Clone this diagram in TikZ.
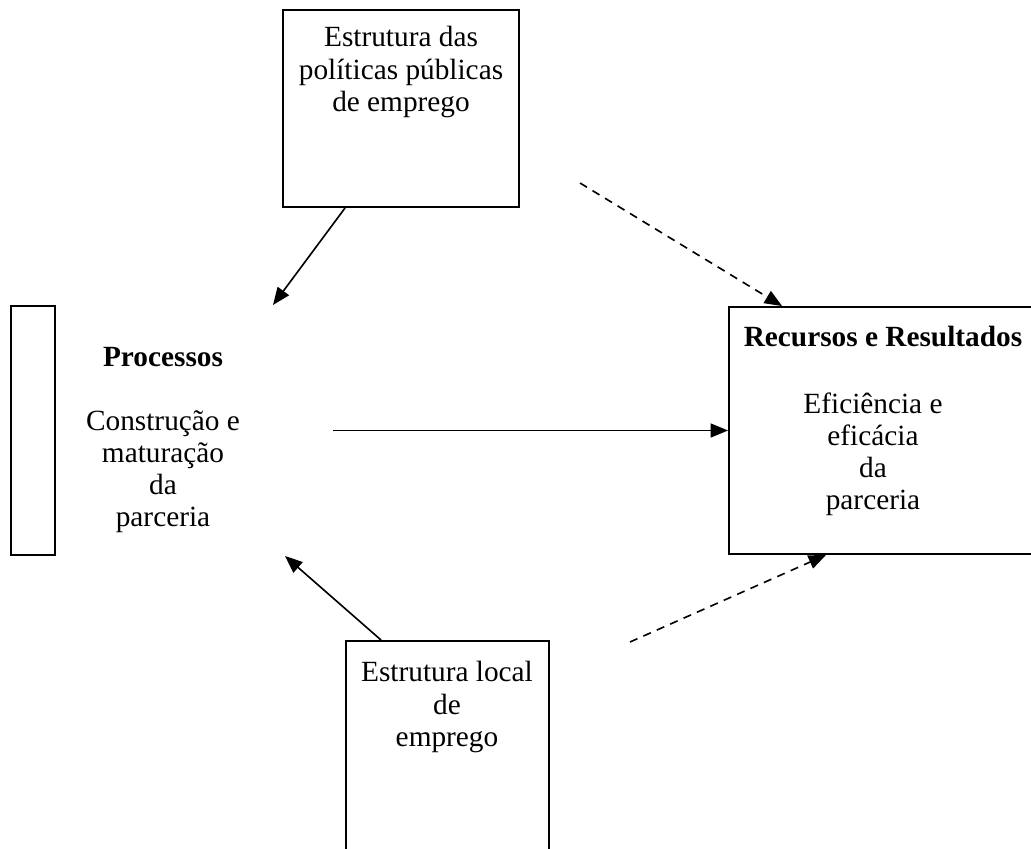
\documentclass[tikz,border=0pt]{standalone}
\usepackage{fontspec}
\setmainfont{Liberation Serif}
\usetikzlibrary{arrows.meta,positioning,calc}
\def\upx{0.43pt}

\begin{document}
\begin{tikzpicture}[x=\upx,y=-\upx,font=\fontsize{12.6}{13.8}\selectfont,
  caixa/.style={draw,line width=0.8pt,inner sep=0pt},
  texto/.style={align=center,inner sep=0pt},
  seta/.style={line width=0.7pt,-{Triangle[length=7.5pt,width=6pt]}},
  tracejada/.style={seta,dash pattern=on 3.5pt off 2.8pt}]
  \useasboundingbox (0,0) rectangle (1031,849);
  \clip (0,0) rectangle (1031,849);

  % Caixas
  \node[caixa,minimum width={236*\upx},minimum height={197*\upx}] (topo) at (401,108.5) {};
  \node[caixa,minimum width={44*\upx},minimum height={249*\upx}] (barra) at (33,430.5) {};
  \node[caixa,minimum width={316*\upx},minimum height={247*\upx}] (recursos) at (887,430.5) {};
  \node[caixa,minimum width={203*\upx},minimum height={229*\upx}] (local) at (447.5,755.5) {};

  % Textos
  \node[texto] (ttopo) at (401,72) {Estrutura das\\políticas públicas\\de emprego};
  \node[texto] (processos) at (163,440) {\textbf{Processos}\\[13.8pt]Construção e\\maturação\\da\\parceria};
  \node[texto] (trecursos) at (883,337) {\textbf{Recursos e Resultados}};
  \node[texto] (eficiencia) at (873,454) {Eficiência e\\eficácia\\da\\parceria};
  \node[texto] (tlocal) at (447,707) {Estrutura local\\de\\emprego};

  % Pontas livres
  \coordinate (pTopo) at (273,305);
  \coordinate (pMeio) at (333,430.5);
  \coordinate (pBaixo) at (285,556);
  \coordinate (dTopo) at (580,183);
  \coordinate (dBaixo) at (630,642);

  % Setas
  \draw[seta] ($(topo.south west)+(63,0)$) -- (pTopo);
  \draw[seta] (pMeio) -- (recursos.west);
  \draw[seta] ($(local.north west)+(36,0)$) -- (pBaixo);
  \draw[tracejada] (dTopo) -- ($(recursos.north west)+(54,0)$);
  \draw[tracejada] (dBaixo) -- ($(recursos.south west)+(98,0)$);
\end{tikzpicture}
\end{document}
